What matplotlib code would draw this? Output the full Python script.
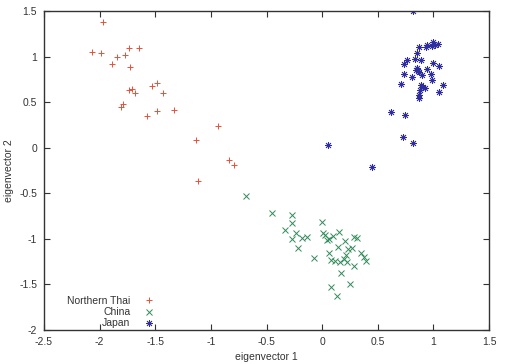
import matplotlib
matplotlib.use("Agg")
import matplotlib.pyplot as plt

thai_x = [-1.972, -2.071, -1.99, -1.84, -1.77, -1.739, -1.649, -1.891, -1.73, -1.733,
          -1.712, -1.685, -1.529, -1.487, -1.433, -1.793, -1.811, -1.487, -1.329, -1.577,
          -0.936, -1.131, -0.837, -0.795, -1.116]
thai_y = [1.379, 1.05, 1.035, 1.0, 1.017, 1.094, 1.094, 0.922, 0.882, 0.633,
          0.644, 0.6, 0.677, 0.706, 0.603, 0.482, 0.45, 0.406, 0.417, 0.344,
          0.234, 0.08, -0.139, -0.187, -0.369]

china_x = [-0.684, -0.448, -0.274, -0.274, -0.337, -0.235, -0.274, -0.184, -0.139, -0.22,
           -0.073, -0.004, 0.005, 0.026, 0.047, 0.065, 0.095, 0.154, 0.206, 0.143,
           0.229, 0.266, 0.289, 0.311, 0.065, 0.083, 0.116, 0.161, 0.197, 0.221,
           0.212, 0.289, 0.349, 0.379, 0.392, 0.167, 0.248, 0.077, 0.136]
china_y = [-0.531, -0.717, -0.739, -0.824, -0.9, -0.933, -1.0, -0.988, -0.984, -1.098,
           -1.208, -0.82, -0.94, -0.959, -1.014, -1.006, -0.97, -0.926, -1.028, -1.087,
           -1.112, -1.105, -0.984, -0.992, -1.153, -1.233, -1.244, -1.255, -1.219, -1.259,
           -1.182, -1.299, -1.153, -1.197, -1.244, -1.376, -1.497, -1.533, -1.628]

japan_x = [0.82, 0.05, 0.448, 0.616, 0.748, 0.73, 0.814, 0.712, 0.739, 0.736,
           0.766, 0.805, 0.844, 0.856, 0.873, 0.835, 0.856, 0.886, 0.872, 0.931,
           0.946, 1.0, 1.017, 1.042, 0.985, 0.94, 0.994, 1.053, 0.9, 0.979,
           0.985, 0.886, 0.904, 0.922, 0.88, 0.873, 0.868, 1.084, 1.048, 0.865]
japan_y = [1.5, 0.032, -0.216, 0.391, 0.362, 0.117, 0.054, 0.695, 0.805, 0.915,
           0.962, 0.772, 0.852, 0.871, 0.834, 0.973, 1.035, 0.962, 1.102, 1.102,
           1.124, 1.16, 1.13, 1.138, 1.116, 0.863, 0.932, 0.893, 0.8, 0.808,
           0.742, 0.688, 0.662, 0.651, 0.633, 0.575, 0.542, 0.691, 0.611, 0.845]

xticks = [-2.5, -2, -1.5, -1, -0.5, 0, 0.5, 1, 1.5]
yticks = [-2, -1.5, -1, -0.5, 0, 0.5, 1, 1.5]

plt.rcParams['font.family'] = ['Liberation Sans', 'DejaVu Sans']

fig = plt.figure(figsize=(5.28, 3.64), dpi=100)
ax = fig.add_axes([44/528, 34/364, 445/528, 319/364])

ax.plot(thai_x, thai_y, linestyle='none', marker='+', markersize=5, markeredgewidth=0.7,
        color='#e8503a', label='Northern Thai')
ax.plot(china_x, china_y, linestyle='none', marker='x', markersize=4.5, markeredgewidth=0.7,
        color='#2e8b57', label='China')
ax.plot(japan_x, japan_y, linestyle='none', marker=(8, 2, 0), markersize=5, markeredgewidth=0.6,
        color='#2e2e9e', label='Japan')

ax.set_xlim(-2.5, 1.5)
ax.set_ylim(-2, 1.5)
ax.set_xticks(xticks)
ax.set_yticks(yticks)
ax.set_xticklabels([f"{t:g}" for t in xticks])
ax.set_yticklabels([f"{t:g}" for t in yticks])
ax.tick_params(direction='in', top=True, right=True, length=4, width=0.8,
               labelsize=7.5, colors='#333333', pad=5)
for s in ax.spines.values():
    s.set_linewidth(1.0)
    s.set_color('#333333')

ax.set_xlabel('eigenvector 1', fontsize=7.5, color='#333333', labelpad=4)
ax.set_ylabel('eigenvector 2', fontsize=7.5, color='#333333', labelpad=4)

leg = ax.legend(loc='lower right', bbox_to_anchor=(0.25, 0.005), markerfirst=False,
                frameon=False, fontsize=7.5, borderpad=0, borderaxespad=0,
                handlelength=1.2, handletextpad=1.2, labelspacing=0.12)
for t in leg.get_texts():
    t.set_color('#333333')

fig.savefig('out.png', dpi=100)
